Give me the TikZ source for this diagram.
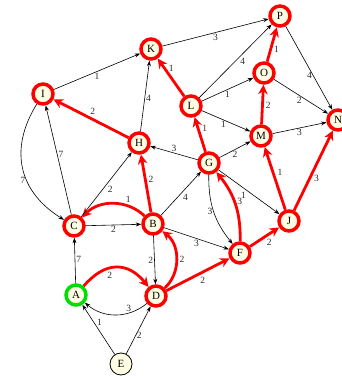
\documentclass[tikz,border=0pt]{standalone}
\usepackage{fontspec}
\setmainfont{Liberation Serif}
\usepackage{tikz}
\usetikzlibrary{arrows.meta}
\definecolor{nodecream}{HTML}{FFFDE3}
\definecolor{pathred}{HTML}{FF0000}
\definecolor{startgreen}{HTML}{00DD00}
\definecolor{weightgray}{HTML}{2A2A2A}

\begin{document}
\begin{tikzpicture}[x=1pt,y=1pt,
  vertex/.style={circle,draw=pathred,line width=3.5pt,fill=nodecream,
    minimum size=20pt,inner sep=0pt,font=\fontsize{11}{11}\selectfont},
  source/.style={vertex,draw=startgreen},
  leaf/.style={vertex,draw=black,line width=0.8pt,minimum size=22pt},
  plain/.style={line width=0.6pt,-{Stealth[length=5.5pt,width=4pt]}},
  best/.style={pathred,line width=2.8pt,-{Stealth[length=9.5pt,width=9.5pt,inset=3pt]}},
  weight/.style={font=\fontsize{9.5}{9.5}\selectfont,text=weightgray,inner sep=1pt}
]
\clip (0,0) rectangle (342,376);
\node[vertex] (P) at (280,360) {P};
\node[vertex] (K) at (151,327) {K};
\node[vertex] (O) at (264,303) {O};
\node[vertex] (N) at (338,256) {N};
\node[vertex] (I) at (43,282) {I};
\node[vertex] (L) at (191,270) {L};
\node[vertex] (M) at (261,240) {M};
\node[vertex] (H) at (139,233) {H};
\node[vertex] (G) at (209,213) {G};
\node[vertex] (C) at (74,150) {C};
\node[vertex] (B) at (153,152) {B};
\node[vertex] (J) at (289,155) {J};
\node[vertex] (F) at (240,123) {F};
\node[source] (A) at (76,81) {A};
\node[vertex] (D) at (156,80) {D};
\node[leaf] (E) at (121,12) {E};

\draw[plain] (I) -- node[weight,below] {1} (K);
\draw[plain] (K) -- node[weight,below] {3} (P);
\draw[best] (L) -- node[weight,pos=.75,right=2pt] {1} (K);
\draw[plain] (L) -- node[weight,pos=.55,below right] {4} (P);
\draw[plain] (L) -- node[weight,below] {1} (O);
\draw[plain] (L) -- node[weight,pos=.45,below] {1} (M);
\draw[best] (O) -- node[weight,pos=.37,right=1pt] {1} (P);
\draw[plain] (O) -- node[weight,pos=.47,below] {2} (N);
\draw[plain] (P) -- node[weight,pos=.59,left] {4} (N);
\draw[best] (M) -- node[weight,pos=.48,right=1pt] {2} (O);
\draw[plain] (M) -- node[weight,below] {3} (N);
\draw[best] (H) -- node[weight,pos=.54,above right] {2} (I);
\draw[plain] (H) -- node[weight,pos=.47,right] {4} (K);
\draw[plain] (G) -- node[weight,above] {3} (H);
\draw[best] (G) -- node[weight,pos=.68,right=2pt] {1} (L);
\draw[plain] (G) -- node[weight,below] {2} (M);
\draw[plain] (G) -- node[weight,pos=.47,below left] {1} (J);
\draw[plain] (G) to[bend right=20] node[weight,left] {3} (F);
\draw[best] (F) to[bend right=20] node[weight,pos=.55,right=1pt] {3} (G);
\draw[plain] (B) -- node[weight,pos=.52,below right] {4} (G);
\draw[best] (B) -- node[weight,pos=.58,right=1pt] {2} (H);
\draw[best] (B) to[bend right=45] node[weight,pos=.27,above=1pt] {1} (C);
\draw[plain] (B) -- node[weight,below] {3} (F);
\draw[plain] (B) -- node[weight,left] {2} (D);
\draw[best] (D) to[bend right=50] node[weight,right=1pt] {2} (B);
\draw[plain] (C) -- node[weight,below] {2} (B);
\draw[plain] (C) -- node[weight,below right] {2} (H);
\draw[plain] (C) -- node[weight,pos=.55,right] {7} (I);
\draw[plain] (I) to[bend right=45,looseness=1.15] node[weight,pos=.6,left] {7} (C);
\draw[plain] (A) -- node[weight,pos=.53,right] {7} (C);
\draw[best] (A) to[bend left=50,looseness=1.3] node[weight,pos=.4,below=2pt] {2} (D);
\draw[plain] (D) to[bend left=40] node[weight,pos=.3,above] {3} (A);
\draw[plain] (E) -- node[weight,pos=.65,right=2pt] {1} (A);
\draw[plain] (E) -- node[weight,pos=.38,right] {2} (D);
\draw[best] (D) -- node[weight,below right] {2} (F);
\draw[best] (F) -- node[weight,below right] {2} (J);
\draw[best] (J) -- node[weight,pos=.59,right=2pt] {1} (M);
\draw[best] (J) -- node[weight,pos=.4,right=2pt] {3} (N);
\end{tikzpicture}
\end{document}
